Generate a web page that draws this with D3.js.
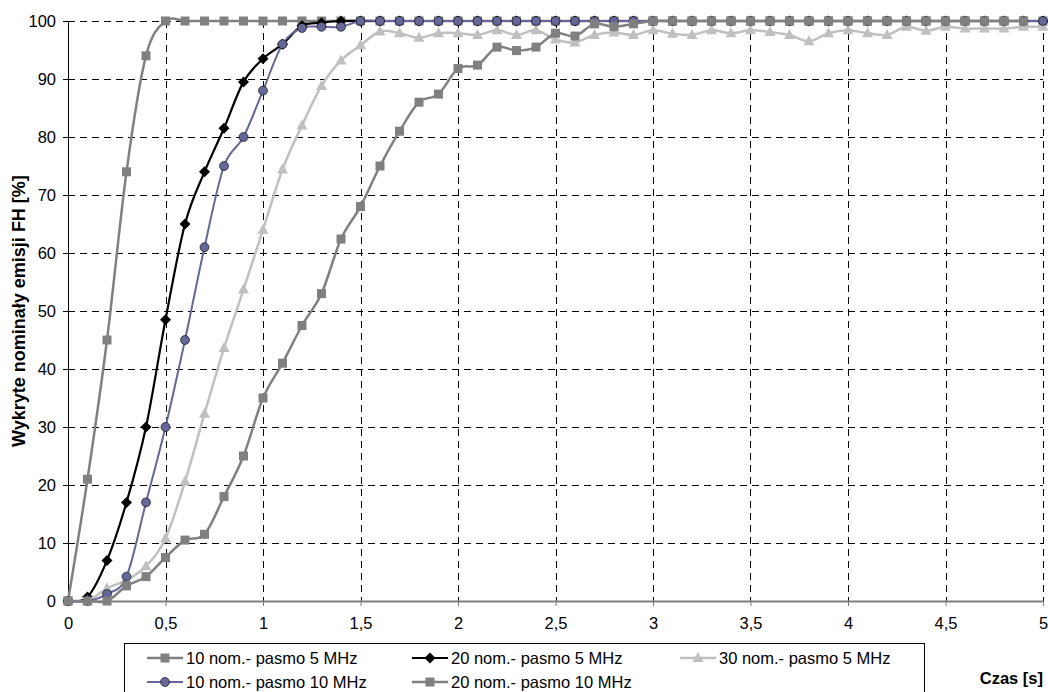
<!DOCTYPE html>
<html>
<head>
<meta charset="utf-8">
<script src="https://cdn.jsdelivr.net/npm/d3@7"></script>
<style>
  body { margin: 0; background: #fff; }
  text { font-family: 'Liberation Sans', Arial, sans-serif; }
</style>
</head>
<body>
<script>
// time steps [s]
let times = [0,0.1,0.2,0.3,0.4,0.5,0.6,0.7,0.8,0.9,1,1.1,1.2,1.3,1.4,1.5,1.6,1.7,1.8,1.9,
             2,2.1,2.2,2.3,2.4,2.5,2.6,2.7,2.8,2.9,3,3.1,3.2,3.3,3.4,3.5,3.6,3.7,3.8,3.9,
             4,4.1,4.2,4.3,4.4,4.5,4.6,4.7,4.8,4.9,5]

// 10 nom.- pasmo 5 MHz
let nom10_5 = [0,21,45,74,94,100,100,100,100,100,100,100,100,100,100,100,100,100,100,100,
               100,100,100,100,100,100,100,100,100,100,100,100,100,100,100,100,100,100,100,100,
               100,100,100,100,100,100,100,100,100,100,100]
// 20 nom.- pasmo 5 MHz
let nom20_5 = [0,0.7,7,17,30,48.5,65,74,81.5,89.5,93.5,96,99.2,99.7,100,100,100,100,100,100,
               100,100,100,100,100,100,100,100,100,100,100,100,100,100,100,100,100,100,100,100,
               100,100,100,100,100,100,100,100,100,100,100]
// 30 nom.- pasmo 5 MHz
let nom30_5 = [0,0,2.2,3.6,6,10.8,20.6,32.3,43.6,53.7,64,74.4,82,88.8,93.2,95.8,98.2,97.9,97.1,97.9,
               97.9,97.6,98.4,97.6,98.4,96.8,96.3,97.6,98,97.6,98.4,97.8,97.6,98.4,97.9,98.4,98.1,97.6,96.5,97.9,
               98.4,97.9,97.6,99,98.3,99,98.7,98.7,98.7,99,99]
// 10 nom.- pasmo 10 MHz
let nom10_10 = [0,0,1.2,4.2,17,30,45,61,75,80,88,96,98.8,99,99,100,100,100,100,100,
                100,100,100,100,100,100,100,100,100,100,100,100,100,100,100,100,100,100,100,100,
                100,100,100,100,100,100,100,100,100,100,100]
// 20 nom.- pasmo 10 MHz (no point at 5 s)
let nom20_10 = [0,0,0,2.6,4.2,7.5,10.5,11.5,18,25,35,41,47.5,53,62.4,68,75,81,86,87.4,
                91.8,92.4,95.5,94.9,95.5,97.9,97.4,99.5,99,99.5,100,100,100,100,100,100,100,100,100,100,
                100,100,100,100,100,100,100,100,100,100]

let seriesNames = ['10 nom.- pasmo 5 MHz','20 nom.- pasmo 5 MHz','30 nom.- pasmo 5 MHz',
                   '10 nom.- pasmo 10 MHz','20 nom.- pasmo 10 MHz']
let xTicks = [0,0.5,1,1.5,2,2.5,3,3.5,4,4.5,5]
let yTicks = [0,10,20,30,40,50,60,70,80,90,100]

let width = 1048
let height = 692
let padLeft = 68, padRight = 1043, padTop = 21, padBottom = 601
let fontSize = 16.5

let series = [
  {name: seriesNames[0], values: nom10_5, color: '#808080', marker: 'square', lw: 2.5},
  {name: seriesNames[1], values: nom20_5, color: '#000000', marker: 'diamond', lw: 2.2},
  {name: seriesNames[2], values: nom30_5, color: '#c0c0c0', marker: 'triangle', lw: 2.5},
  {name: seriesNames[3], values: nom10_10, color: '#666699', marker: 'circle', lw: 2},
  {name: seriesNames[4], values: nom20_10, color: '#808080', marker: 'square', lw: 2.5}
]

let svg = d3.select('body').append('svg').attr('width', width).attr('height', height)

let x = d3.scaleLinear().domain([0, 5]).range([padLeft, padRight])
let y = d3.scaleLinear().domain([0, 100]).range([padBottom, padTop])

let fmt = d => String(d).replace('.', ',')

// grid
svg.append('g')
   .selectAll('line')
   .data(yTicks.filter(d => d > 0))
   .enter().append('line')
   .attr('x1', padLeft).attr('x2', padRight)
   .attr('y1', d => Math.round(y(d)) + 0.5).attr('y2', d => Math.round(y(d)) + 0.5)
   .attr('stroke', '#000').attr('stroke-dasharray', '7,5')

svg.append('g')
   .selectAll('line')
   .data(xTicks.filter(d => d > 0))
   .enter().append('line')
   .attr('y1', padTop).attr('y2', padBottom)
   .attr('x1', d => Math.round(x(d)) + 0.5).attr('x2', d => Math.round(x(d)) + 0.5)
   .attr('stroke', '#000').attr('stroke-dasharray', '7,5')

// axes
let xAxis = d3.axisBottom(x).tickValues(xTicks).tickFormat(fmt).tickSize(5).tickSizeOuter(0).tickPadding(11)
let yAxis = d3.axisLeft(y).tickValues(yTicks).tickSize(5).tickSizeOuter(0).tickPadding(7)

let gx = svg.append('g').attr('transform', 'translate(0,' + padBottom + ')').call(xAxis)
gx.select('.domain').attr('stroke', '#808080').attr('stroke-width', 2)
gx.selectAll('.tick line').attr('stroke', '#808080')
gx.selectAll('text').attr('font-size', fontSize).attr('fill', '#000')
   .attr('font-family', "'Liberation Sans', Arial, sans-serif")

let gy = svg.append('g').attr('transform', 'translate(' + padLeft + ',0)').call(yAxis)
gy.select('.domain').attr('stroke', '#000').attr('stroke-width', 1)
gy.selectAll('text').attr('font-size', fontSize).attr('fill', '#000')
   .attr('font-family', "'Liberation Sans', Arial, sans-serif")

// axis titles
svg.append('text')
   .attr('transform', 'translate(19,' + ((padTop + padBottom) / 2) + ') rotate(-90)')
   .attr('text-anchor', 'middle')
   .attr('dy', '0.35em')
   .attr('font-size', 18).attr('font-weight', 'bold')
   .text('Wykryte nominały emisji FH [%]')

svg.append('text')
   .attr('x', padRight).attr('y', 678).attr('dy', '0.35em')
   .attr('text-anchor', 'end')
   .attr('font-size', fontSize).attr('font-weight', 'bold')
   .text('Czas [s]')

// markers
let drawMarker = (g, type, color, cx, cy) => {
  if (type == 'square') {
    g.append('rect').attr('x', cx - 4.5).attr('y', cy - 4.5).attr('width', 9).attr('height', 9)
     .attr('fill', color)
  } else if (type == 'diamond') {
    g.append('path').attr('d', 'M' + cx + ',' + (cy - 5.5) + 'L' + (cx + 5.5) + ',' + cy +
                           'L' + cx + ',' + (cy + 5.5) + 'L' + (cx - 5.5) + ',' + cy + 'Z')
     .attr('fill', color)
  } else if (type == 'triangle') {
    g.append('path').attr('d', 'M' + cx + ',' + (cy - 6) + 'L' + (cx + 5.5) + ',' + (cy + 4) +
                           'L' + (cx - 5.5) + ',' + (cy + 4) + 'Z')
     .attr('fill', color)
  } else {
    g.append('circle').attr('cx', cx).attr('cy', cy).attr('r', 4.5)
     .attr('fill', color).attr('stroke', '#000').attr('stroke-width', 0.6)
  }
}

let line = d3.line()
             .x(d => x(d.t))
             .y(d => y(d.v))
             .curve(d3.curveCatmullRom.alpha(0))

series.forEach(s => {
  let pts = s.values.map((v, i) => ({t: times[i], v: v}))
  let g = svg.append('g')
  g.append('path')
   .attr('d', line(pts))
   .attr('fill', 'none')
   .attr('stroke', s.color)
   .attr('stroke-width', s.lw)
  pts.forEach(p => drawMarker(g, s.marker, s.color, x(p.t), y(p.v)))
})

// legend
let legend = svg.append('g')
legend.append('rect')
      .attr('x', 124.5).attr('y', 643.5).attr('width', 800).attr('height', 60)
      .attr('fill', '#fff').attr('stroke', '#000').attr('stroke-width', 1)

let legendPos = [[165, 658], [430, 658], [698, 658], [165, 682], [430, 682]]

series.forEach((s, i) => {
  let cx = legendPos[i][0], cy = legendPos[i][1]
  legend.append('line')
        .attr('x1', cx - 18).attr('x2', cx + 18).attr('y1', cy).attr('y2', cy)
        .attr('stroke', s.color).attr('stroke-width', s.lw)
  drawMarker(legend, s.marker, s.color, cx, cy)
  legend.append('text')
        .attr('x', cx + 21).attr('y', cy).attr('dy', '0.35em')
        .attr('font-size', fontSize)
        .text(s.name)
})
</script>
</body>
</html>
